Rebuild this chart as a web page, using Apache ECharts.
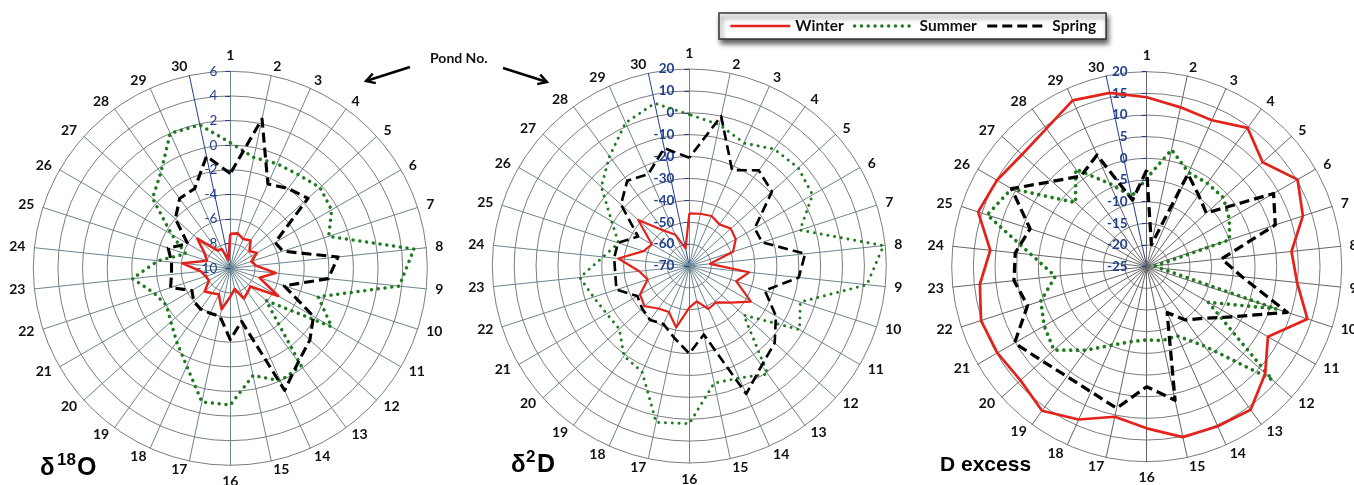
<!DOCTYPE html>
<html>
<head>
<meta charset="utf-8">
<script src="https://cdn.jsdelivr.net/npm/echarts@6/dist/echarts.min.js"></script>
<style>
html,body{margin:0;padding:0;background:#fff;}
#chart{width:1354px;height:485px;}
</style>
</head>
<body>
<div id="chart"></div>
<script>
// ---------- data ----------
const ponds = ['1','2','3','4','5','6','7','8','9','10','11','12','13','14','15',
               '16','17','18','19','20','21','22','23','24','25','26','27','28','29','30'];

const o18Ticks = [-10, -8, -6, -4, -2, 0, 2, 4, 6];
const d2hTicks = [-70, -60, -50, -40, -30, -20, -10, 0, 10, 20];
const dexTicks = [-25, -20, -15, -10, -5, 0, 5, 10, 15, 20];

// delta 18O
const o18Winter = [-7.2, -7.1, -7.4, -7.2, -7.9, -7.5, -8.2, -7.9, -6.3, -7.5, -5.5, -7.8, -7.6, -7.3, -8.3,
                   -7.7, -6.6, -7.7, -7.5, -7.2, -8.0, -7.9, -7.6, -6.1, -8.0, -7.6, -6.4, -8.2, -8.3, -9.3];
const o18Summer = [0.2, -0.8, -0.7, -0.6, -0.2, -0.5, -1.6, 5.0, 3.8, -2.5, -0.5, -6.1, -0.2, 0.0, -1.1,
                   1.1, 1.1, -1.3, -2.6, -3.5, -4.0, -3.5, -2.0, -4.1, -6.2, -4.5, -1.5, -0.4, 2.0, 1.9];
const o18Spring = [-2.3, 2.4, -2.5, -2.0, -1.5, -5.8, -5.5, -1.2, -2.0, -5.4, -2.2, -1.3, -0.6, 0.85, -5.6,
                   -4.2, -6.0, -6.0, -5.9, -6.0, -6.4, -4.9, -5.2, -5.2, -4.7, -6.0, -4.0, -3.0, -2.9, -0.7];

// delta 2H
const d2hWinter = [-46, -45.6, -45, -46.5, -44.5, -45.5, -49, -60.5, -42.5, -47.5, -37.5, -45, -49.4, -48.5, -53.5,
                   -51, -41.3, -47, -46, -42.5, -44, -50, -47, -37.4, -48, -50.3, -38.6, -50, -54.4, -61.8];
const d2hSummer = [-0.8, -4, -8.5, -4, -3, -5, -16.8, 19.2, 11.6, -16.7, -11.8, -36.5, -9, -14, -15.3,
                   2, 3, -17, -19.2, -27, -26.4, -24, -19.7, -30.4, -36, -29, -15.9, -8, 1.6, 6];
const d2hSpring = [-20.5, 0, -22, -16, -19.2, -35.5, -35, -16.8, -19.7, -33.7, -24.3, -17.5, -13.8, -6, -38,
                   -30, -36.5, -41, -39.5, -41, -42.6, -35, -36, -35.5, -35.7, -43, -28, -21.8, -24, -15];

// D excess
const dexWinter = [14.1, 12.6, 12.0, 14.6, 11.0, 15.2, 12.9, 8.6, 9.9, 14.0, 7.3, 11.8, 15.8, 15.3, 15.2,
                   12.3, 10.4, 13.6, 16.1, 14.2, 14.8, 15.2, 13.7, 11.3, 15.9, 14.9, 13.7, 14.4, 17.0, 16.0];
const dexSummer = [-4.6, 2.6, -1.2, -1.2, -1.2, -3.0, -4.9, -23.0, -22.0, 6.5, -8.6, 14.0, -2.4, -7.5, -7.6,
                   -8.1, -7.3, -5.2, -1.2, 3.8, 2.3, 0.7, -3.8, 1.8, 13.7, 11.0, -2.9, 2.8, -4.0, -8.4];
const dexSpring = [-2.7, -19.8, -1.6, -4.6, -6.5, 8.8, 6.2, -7.6, -2.9, 9.1, -1.9, -7.2, -9.8, -13.4, 6.5,
                   2.7, 8.4, 6.6, 6.3, 7.5, 10.2, 3.9, 5.8, 5.5, 3.3, 11.0, 4.4, 0.85, 3.2, -9.3];

const seasons = ['Winter', 'Summer', 'Spring'];

// ---------- styling / helpers ----------
const NAVY = '#203f8f';
// ECharts radar runs counter-clockwise; list ponds 1,30,29,...,2 so they appear clockwise.
const order = Array.from({length: 30}, (_, k) => (30 - k) % 30);
const reorder = arr => order.map(i => arr[i]);

function seasonLine(name, s) {
  if (name === 'Winter') return {color: '#e3231b', width: 2.6 * s, type: 'solid'};
  if (name === 'Summer') return {color: '#1f7a1f', width: 3.5 * s, type: [0.01, 6.8], cap: 'round'};
  return {color: '#000000', width: 3.1 * s, type: [10, 5]};
}

function radarCfg(center, radius, ticks, spokeColor, labelMargin, labelWeight) {
  const min = ticks[0], max = ticks[ticks.length - 1];
  return {
    center: center,
    radius: radius,
    shape: 'circle',
    startAngle: 90,
    splitNumber: ticks.length - 1,
    nameGap: 9,
    axisName: {color: '#111', fontFamily: 'Lato', fontWeight: 'bold', fontSize: 14},
    indicator: order.map(i => {
      const ind = {name: ponds[i], min: min, max: max};
      if (i === 0) {
        ind.axisLabel = {show: true, color: NAVY, fontFamily: 'Lato', fontSize: 13.5,
                         fontWeight: labelWeight, margin: labelMargin};
        ind.axisTick = {show: true, length: 5, lineStyle: {color: NAVY, width: 1}};
      }
      if (i === 29) {
        ind.axisLine = {lineStyle: {color: NAVY, width: 1}};
      }
      return ind;
    }),
    splitLine: {lineStyle: {color: '#7c7c7c', width: 1}},
    splitArea: {show: false},
    axisLine: {lineStyle: {color: spokeColor, width: 1}},
    axisLabel: {show: false},
    axisTick: {show: false}
  };
}

function radarSeries(idx, summer, spring, winter, s) {
  return {
    type: 'radar',
    radarIndex: idx,
    symbol: 'none',
    silent: true,
    data: [
      {name: 'Summer', value: reorder(summer), lineStyle: seasonLine('Summer', s), itemStyle: {color: '#1f7a1f'}},
      {name: 'Spring', value: reorder(spring), lineStyle: seasonLine('Spring', s), itemStyle: {color: '#000'}},
      {name: 'Winter', value: reorder(winter), lineStyle: seasonLine('Winter', s), itemStyle: {color: '#e3231b'}}
    ]
  };
}

// empty line series only provide the legend icons (solid / dotted / dashed)
const legendSeries = seasons.map(n => ({
  type: 'line', name: n, data: [], symbol: 'none', silent: true,
  lineStyle: seasonLine(n, 1), itemStyle: {color: seasonLine(n, 1).color}
}));

function arrowHead(tip, tail, len) {
  const dx = tail[0] - tip[0], dy = tail[1] - tip[1];
  const L = Math.hypot(dx, dy), ux = dx / L, uy = dy / L;
  const c = Math.cos(Math.PI / 6), s = Math.sin(Math.PI / 6);
  const a = [tip[0] + len * (ux * c - uy * s), tip[1] + len * (ux * s + uy * c)];
  const b = [tip[0] + len * (ux * c + uy * s), tip[1] + len * (-ux * s + uy * c)];
  return [a, tip, b];
}
const arrowL = {tail: [410, 67], tip: [366, 81]};
const arrowR = {tail: [503, 68], tip: [547, 82]};

const titleFont = 'Liberation Sans';

const option = {
  animation: false,
  backgroundColor: '#ffffff',
  legend: {
    data: seasons.map(n => ({name: n, lineStyle: seasonLine(n, 1)})),
    left: 719, top: 13,
    itemWidth: 60, itemHeight: 15, itemGap: 9,
    padding: [5, 10],
    backgroundColor: '#ffffff',
    borderColor: '#333333', borderWidth: 1.5,
    shadowColor: 'rgba(0,0,0,0.65)', shadowBlur: 5, shadowOffsetX: 2, shadowOffsetY: 4,
    textStyle: {fontFamily: 'Lato', fontWeight: 'bold', fontSize: 15.5, color: '#111'},
    itemStyle: {opacity: 0},
    selectedMode: false
  },
  grid: {show: false, left: 0, top: 0, width: 1, height: 1},
  xAxis: {type: 'category', show: false, data: []},
  yAxis: {type: 'value', show: false},
  radar: [
    radarCfg([230.3, 268.3], 197, o18Ticks, '#6b8591', 13, 'normal'),
    radarCfg([689.3, 266], 197, d2hTicks, '#6b8591', 15, 'bold'),
    radarCfg([1146.7, 266.7], 195, dexTicks, '#666666', 19, 'bold')
  ],
  series: [
    radarSeries(0, o18Summer, o18Spring, o18Winter, 1.0),
    radarSeries(1, d2hSummer, d2hSpring, d2hWinter, 0.85),
    radarSeries(2, dexSummer, dexSpring, dexWinter, 1.05)
  ].concat(legendSeries),
  graphic: [
    {type: 'text', x: 430, y: 51, style: {text: 'Pond No.', font: 'bold 14px Lato', fill: '#111', verticalAlign: 'top'}},
    {type: 'polyline', shape: {points: [arrowL.tail, arrowL.tip]}, style: {stroke: '#000', lineWidth: 2.4, fill: null}},
    {type: 'polyline', shape: {points: arrowHead(arrowL.tip, arrowL.tail, 10)}, style: {stroke: '#000', lineWidth: 2.4, fill: null}},
    {type: 'polyline', shape: {points: [arrowR.tail, arrowR.tip]}, style: {stroke: '#000', lineWidth: 2.4, fill: null}},
    {type: 'polyline', shape: {points: arrowHead(arrowR.tip, arrowR.tail, 10)}, style: {stroke: '#000', lineWidth: 2.4, fill: null}},

    {type: 'text', x: 40, y: 456, style: {text: 'δ', font: 'bold 24px ' + titleFont, fill: '#000', verticalAlign: 'top'}},
    {type: 'text', x: 57, y: 452, style: {text: '18', font: 'bold 17px ' + titleFont, fill: '#000', verticalAlign: 'top'}},
    {type: 'text', x: 77, y: 456, style: {text: 'O', font: 'bold 25px ' + titleFont, fill: '#000', verticalAlign: 'top'}},

    {type: 'text', x: 511, y: 453, style: {text: 'δ', font: 'bold 24px ' + titleFont, fill: '#000', verticalAlign: 'top'}},
    {type: 'text', x: 526, y: 449, style: {text: '2', font: 'bold 17px ' + titleFont, fill: '#000', verticalAlign: 'top'}},
    {type: 'text', x: 537, y: 453, style: {text: 'D', font: 'bold 25px ' + titleFont, fill: '#000', verticalAlign: 'top'}},

    {type: 'text', x: 940, y: 455, style: {text: 'D excess', font: 'bold 21px ' + titleFont, fill: '#000', verticalAlign: 'top'}}
  ]
};

const chart = echarts.init(document.getElementById('chart'), null, {renderer: 'canvas'});
chart.setOption(option);
</script>
</body>
</html>
